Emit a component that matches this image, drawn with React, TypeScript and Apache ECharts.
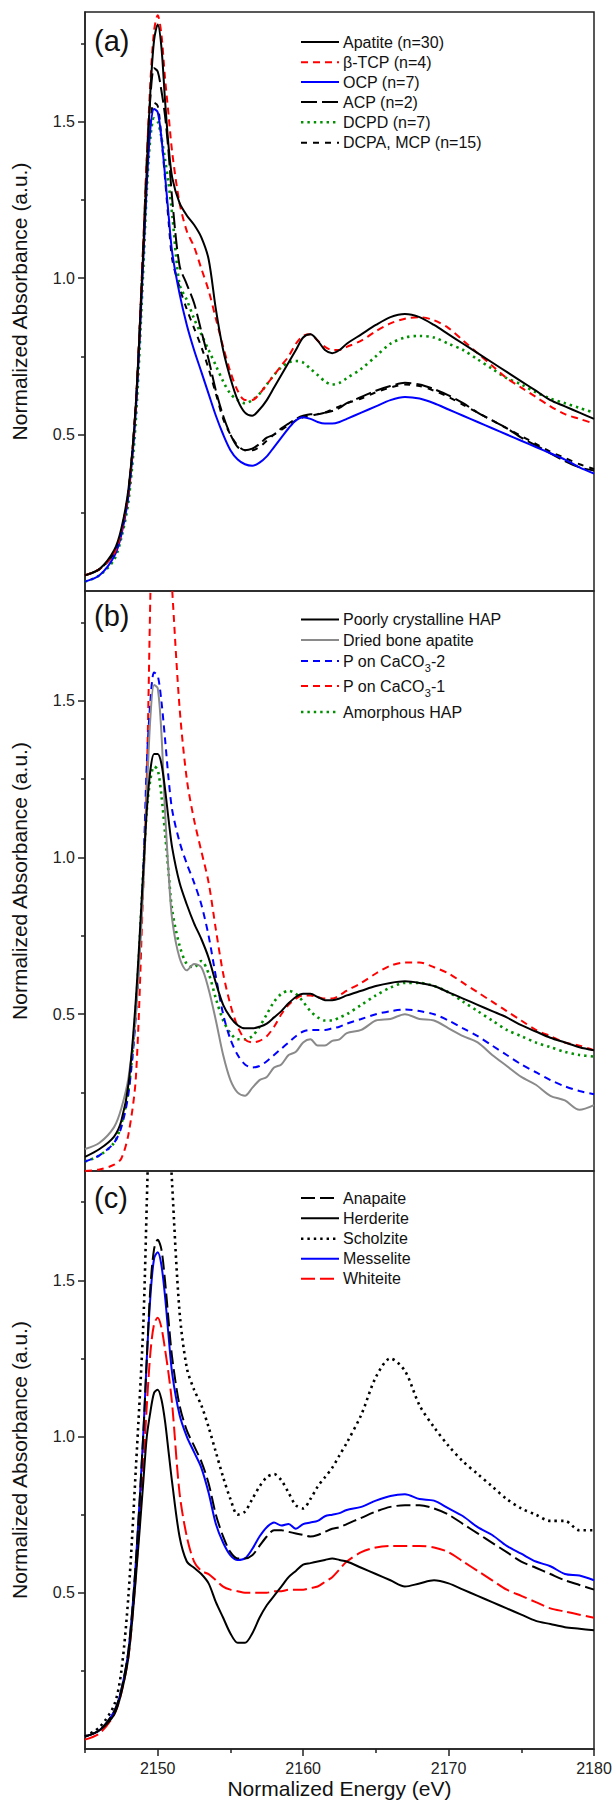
import React, { useEffect, useRef } from 'react';
import * as echarts from 'echarts';

// Energy grid (eV), shared by every curve
const energy = [
  2145, 2146, 2147, 2147.5, 2148, 2148.5, 2149,
  2149.25, 2149.5, 2149.75, 2150, 2150.25, 2150.5, 2150.75, 2151,
  2151.5, 2152, 2152.5, 2153, 2153.5, 2154, 2154.5, 2155, 2155.5, 2156, 2156.5, 2157, 2157.5, 2158, 2158.5, 2159, 2159.5, 2160, 2160.5, 2161, 2161.5, 2162, 2162.5, 2163,
  2164, 2165, 2166, 2167, 2168, 2169, 2170, 2171, 2172, 2173, 2174, 2175, 2176, 2177, 2178, 2179, 2180,
];

// Panel (a)
const apatite = [
  0.05, 0.07, 0.13, 0.2, 0.33, 0.6, 1.08,
  1.35, 1.6, 1.76, 1.81, 1.74, 1.57, 1.42, 1.32,
  1.24, 1.2, 1.17, 1.13, 1.06, 0.9, 0.77, 0.68, 0.61, 0.57, 0.56, 0.58, 0.61, 0.65, 0.69, 0.73, 0.77, 0.81, 0.82, 0.8, 0.77, 0.76, 0.77, 0.79,
  0.82, 0.85, 0.875, 0.885, 0.875, 0.85, 0.82, 0.79, 0.76, 0.73, 0.7, 0.67, 0.64, 0.61, 0.59, 0.57, 0.55,
];
const betaTCP = [
  0.05, 0.07, 0.12, 0.19, 0.32, 0.6, 1.1,
  1.38, 1.63, 1.79, 1.84, 1.78, 1.64, 1.52, 1.4,
  1.24, 1.15, 1.1, 1.03, 0.96, 0.87, 0.78, 0.7, 0.64, 0.61, 0.61, 0.63, 0.66, 0.69, 0.72, 0.75, 0.79, 0.815, 0.82, 0.8, 0.78, 0.77, 0.77, 0.78,
  0.8, 0.83, 0.855, 0.87, 0.875, 0.865, 0.84, 0.8, 0.76, 0.72, 0.68, 0.65, 0.62, 0.59, 0.565, 0.55, 0.535,
];
const ocp = [
  0.03, 0.05, 0.11, 0.18, 0.31, 0.58, 1.05,
  1.3, 1.48, 1.54, 1.53, 1.45, 1.33, 1.2, 1.08,
  0.95, 0.85, 0.77, 0.7, 0.63, 0.56, 0.5, 0.45, 0.42, 0.405, 0.4, 0.41, 0.43, 0.46, 0.49, 0.52, 0.545, 0.555, 0.55, 0.54, 0.535, 0.535, 0.54, 0.55,
  0.57, 0.59, 0.61, 0.62, 0.615, 0.6, 0.58, 0.56, 0.54, 0.52, 0.5, 0.48, 0.46, 0.44, 0.42, 0.395, 0.375,
];
const acp = [
  0.05, 0.07, 0.12, 0.19, 0.32, 0.6, 1.1,
  1.38, 1.58, 1.67, 1.66, 1.6, 1.52, 1.4, 1.25,
  1.04, 0.98, 0.92, 0.83, 0.74, 0.64, 0.56, 0.5, 0.46, 0.45, 0.455, 0.47, 0.49, 0.5, 0.52, 0.535, 0.55, 0.56, 0.565, 0.565, 0.57, 0.575, 0.585, 0.6,
  0.62, 0.64, 0.655, 0.665, 0.66, 0.645, 0.625, 0.6, 0.57, 0.545, 0.52, 0.49, 0.465, 0.44, 0.415, 0.395, 0.385,
];
const dcpd = [
  0.03, 0.05, 0.1, 0.17, 0.29, 0.55, 1.02,
  1.28, 1.45, 1.51, 1.5, 1.45, 1.38, 1.3, 1.2,
  0.98, 0.93, 0.87, 0.82, 0.77, 0.72, 0.67, 0.63, 0.61, 0.6, 0.61, 0.63, 0.66, 0.69, 0.715, 0.73, 0.735, 0.73, 0.71, 0.69, 0.67, 0.66, 0.665, 0.68,
  0.71, 0.75, 0.79, 0.81, 0.815, 0.81, 0.79, 0.77, 0.74, 0.71, 0.68, 0.66, 0.635, 0.615, 0.6, 0.585, 0.57,
];
const dcpaMcp = [
  0.05, 0.07, 0.12, 0.19, 0.32, 0.6, 1.08,
  1.32, 1.5, 1.56, 1.55, 1.45, 1.32, 1.18, 1.06,
  0.97, 0.9, 0.84, 0.78, 0.71, 0.63, 0.55, 0.5, 0.465, 0.45, 0.45, 0.46, 0.48, 0.5, 0.515, 0.53, 0.545, 0.555, 0.56, 0.565, 0.57, 0.58, 0.59, 0.6,
  0.615, 0.635, 0.65, 0.66, 0.655, 0.64, 0.62, 0.595, 0.57, 0.545, 0.52, 0.495, 0.47, 0.445, 0.425, 0.405, 0.39,
];

// Panel (b)
const poorlyHAP = [
  0.045, 0.07, 0.11, 0.16, 0.28, 0.55, 0.95,
  1.15, 1.28, 1.33, 1.33, 1.3, 1.22, 1.12, 1.03,
  0.92, 0.85, 0.79, 0.74, 0.68, 0.6, 0.53, 0.49, 0.465, 0.455, 0.455, 0.46, 0.47, 0.49, 0.51, 0.535, 0.555, 0.565, 0.565, 0.555, 0.545, 0.545, 0.55, 0.56,
  0.575, 0.59, 0.6, 0.605, 0.6, 0.59, 0.57, 0.55, 0.53, 0.51, 0.49, 0.465, 0.445, 0.425, 0.41, 0.395, 0.385,
];
const driedBone = [
  0.07, 0.09, 0.14, 0.2, 0.3, 0.5, 0.9,
  1.2, 1.45, 1.55, 1.54, 1.4, 1.15, 0.95, 0.8,
  0.68, 0.64, 0.66, 0.65, 0.58, 0.48, 0.37, 0.29, 0.25, 0.24, 0.265, 0.29, 0.3, 0.33, 0.34, 0.37, 0.38, 0.41, 0.42, 0.4, 0.4, 0.415, 0.42, 0.44,
  0.45, 0.48, 0.485, 0.5, 0.485, 0.48, 0.455, 0.43, 0.41, 0.37, 0.335, 0.3, 0.275, 0.24, 0.225, 0.195, 0.21,
];
const caco3Two = [
  0.03, 0.05, 0.09, 0.14, 0.25, 0.5, 0.95,
  1.3, 1.5, 1.59, 1.58, 1.5, 1.38, 1.25, 1.15,
  1.05, 0.98, 0.92, 0.85, 0.75, 0.62, 0.5, 0.42, 0.37, 0.34, 0.33, 0.335, 0.35, 0.37, 0.39, 0.41, 0.43, 0.445, 0.45, 0.45, 0.45, 0.455, 0.46, 0.47,
  0.485, 0.5, 0.51, 0.515, 0.51, 0.5, 0.48, 0.455, 0.43, 0.4, 0.37, 0.34, 0.315, 0.29, 0.27, 0.255, 0.245,
];
const caco3One = [
  0, 0.005, 0.02, 0.04, 0.12, 0.3, 0.9,
  1.25, 1.85, 2.4, 2.6, 2.5, 2.3, 2.05, 1.85,
  1.48, 1.25, 1.12, 1.02, 0.92, 0.77, 0.63, 0.53, 0.46, 0.42, 0.41, 0.415, 0.43, 0.46, 0.5, 0.53, 0.55, 0.56, 0.56, 0.555, 0.55, 0.55, 0.56, 0.575,
  0.6, 0.63, 0.655, 0.665, 0.665, 0.65, 0.63, 0.6, 0.57, 0.54, 0.51, 0.48, 0.45, 0.43, 0.41, 0.4, 0.385,
];
const amorphousHAP = [
  0.03, 0.05, 0.09, 0.15, 0.26, 0.52, 0.95,
  1.15, 1.25, 1.29, 1.28, 1.2, 1.08, 0.95, 0.83,
  0.72, 0.66, 0.65, 0.67, 0.63, 0.55, 0.48, 0.44, 0.42, 0.42, 0.43, 0.46, 0.5, 0.54, 0.565, 0.575, 0.565, 0.54, 0.51, 0.49, 0.48, 0.48, 0.49, 0.5,
  0.53, 0.56, 0.585, 0.6, 0.6, 0.59, 0.57, 0.54, 0.51, 0.48, 0.45, 0.43, 0.41, 0.395, 0.38, 0.37, 0.365,
];

// Panel (c)
const anapaite = [
  0.04, 0.06, 0.12, 0.19, 0.32, 0.6, 1.0,
  1.25, 1.48, 1.6, 1.63, 1.6, 1.5, 1.37, 1.25,
  1.1, 1.02, 0.97, 0.92, 0.85, 0.75, 0.68, 0.63, 0.61, 0.61, 0.62, 0.65, 0.68, 0.7, 0.7, 0.695, 0.69, 0.685, 0.68, 0.685, 0.695, 0.705, 0.71, 0.72,
  0.74, 0.76, 0.775, 0.78, 0.78, 0.77, 0.75, 0.72, 0.69, 0.66, 0.63, 0.6, 0.58, 0.56, 0.54, 0.525, 0.51,
];
const herderite = [
  0.04, 0.06, 0.11, 0.18, 0.3, 0.55, 0.85,
  1.0, 1.08, 1.14, 1.15, 1.12, 1.05, 0.95, 0.85,
  0.68, 0.6, 0.58, 0.56, 0.53, 0.47, 0.42, 0.37, 0.34, 0.34, 0.37, 0.42, 0.46, 0.49, 0.52, 0.55, 0.57, 0.59, 0.595, 0.6, 0.605, 0.61, 0.605, 0.6,
  0.58, 0.56, 0.54, 0.52, 0.53, 0.54, 0.53, 0.51, 0.49, 0.47, 0.45, 0.43, 0.41, 0.4, 0.39, 0.385, 0.38,
];
const scholzite = [
  0.04, 0.07, 0.14, 0.25, 0.5, 0.9, 1.35,
  1.75, 2.2, 2.5, 2.65, 2.55, 2.35, 2.05, 1.8,
  1.4, 1.22, 1.15, 1.1, 1.03, 0.95, 0.87, 0.8, 0.75, 0.76, 0.8, 0.84, 0.87, 0.88, 0.86, 0.82, 0.78, 0.77, 0.8, 0.84, 0.87, 0.9, 0.94, 0.98,
  1.07, 1.19, 1.25, 1.21, 1.1, 1.03, 0.97, 0.92, 0.88, 0.84, 0.8, 0.77, 0.75, 0.73, 0.73, 0.7, 0.7,
];
const messelite = [
  0.04, 0.06, 0.12, 0.19, 0.32, 0.6, 1.0,
  1.25, 1.45, 1.57, 1.59, 1.55, 1.45, 1.32, 1.2,
  1.07, 1.0, 0.95, 0.9, 0.82, 0.72, 0.66, 0.62, 0.605, 0.61, 0.64, 0.68, 0.71, 0.725, 0.715, 0.72, 0.705, 0.72, 0.725, 0.73, 0.745, 0.75, 0.755, 0.765,
  0.775, 0.795, 0.81, 0.815, 0.8, 0.795, 0.77, 0.745, 0.71, 0.685, 0.65, 0.625, 0.6, 0.585, 0.56, 0.555, 0.54,
];
const whiteite = [
  0.03, 0.05, 0.11, 0.18, 0.3, 0.56, 0.9,
  1.1, 1.27, 1.36, 1.38, 1.35, 1.28, 1.2, 1.1,
  0.82, 0.68, 0.6, 0.57, 0.56, 0.54, 0.52, 0.51, 0.505, 0.5, 0.5, 0.5, 0.5, 0.505, 0.505, 0.51, 0.51, 0.51, 0.515, 0.52, 0.535, 0.55, 0.575, 0.6,
  0.63, 0.645, 0.65, 0.65, 0.65, 0.645, 0.63, 0.6, 0.57, 0.54, 0.51, 0.49, 0.47, 0.45, 0.44, 0.43, 0.42,
];

// Axis ticks / labels
const xMajorTicks = [2150, 2160, 2170, 2180];
const xMinorTicks = [2145, 2155, 2165, 2175];
const yMajorTicks = [0.5, 1.0, 1.5];
const yMinorTicks = [0.25, 0.75, 1.25, 1.75];

const FONT = '"Liberation Sans", Arial, Helvetica, sans-serif';
const RED = '#ff0000';
const BLUE = '#0000ff';
const GREEN = '#009000';
const GRAY = '#8a8a8a';
const BLACK = '#000000';
const AXIS = '#222222';

type Item = {
  name: string;
  sub?: string;
  after?: string;
  data: number[];
  color: string;
  width: number;
  dash: number[] | null;
};

const panels: { top: number; height: number; label: string; labelY: number; legendY: number[]; items: Item[] }[] = [
  {
    top: 12, height: 579, label: '(a)', labelY: 41,
    legendY: [42, 62.3, 82, 102, 122.3, 142.7],
    items: [
      { name: 'Apatite (n=30)', data: apatite, color: BLACK, width: 2, dash: null },
      { name: 'β-TCP (n=4)', data: betaTCP, color: RED, width: 2, dash: [7, 5] },
      { name: 'OCP (n=7)', data: ocp, color: BLUE, width: 2, dash: null },
      { name: 'ACP (n=2)', data: acp, color: BLACK, width: 2, dash: [16, 5] },
      { name: 'DCPD (n=7)', data: dcpd, color: GREEN, width: 2.6, dash: [2.4, 4] },
      { name: 'DCPA, MCP (n=15)', data: dcpaMcp, color: BLACK, width: 2, dash: [6, 6] },
    ],
  },
  {
    top: 591, height: 580, label: '(b)', labelY: 616,
    legendY: [619.5, 640, 661, 686, 712],
    items: [
      { name: 'Poorly crystalline HAP', data: poorlyHAP, color: BLACK, width: 2, dash: null },
      { name: 'Dried bone apatite', data: driedBone, color: GRAY, width: 2, dash: null },
      { name: 'P on CaCO', sub: '3', after: '-2', data: caco3Two, color: BLUE, width: 2, dash: [7, 5] },
      { name: 'P on CaCO', sub: '3', after: '-1', data: caco3One, color: RED, width: 2, dash: [7, 5] },
      { name: 'Amorphous HAP', data: amorphousHAP, color: GREEN, width: 2.6, dash: [2.4, 4] },
    ],
  },
  {
    top: 1171, height: 578, label: '(c)', labelY: 1198,
    legendY: [1198, 1218.3, 1238.7, 1258.7, 1278.7],
    items: [
      { name: 'Anapaite', data: anapaite, color: BLACK, width: 2, dash: [14, 5] },
      { name: 'Herderite', data: herderite, color: BLACK, width: 2, dash: null },
      { name: 'Scholzite', data: scholzite, color: BLACK, width: 2.6, dash: [2.4, 4] },
      { name: 'Messelite', data: messelite, color: BLUE, width: 2, dash: null },
      { name: 'Whiteite', data: whiteite, color: RED, width: 2, dash: [14, 5] },
    ],
  },
];

const GRID_LEFT = 85;
const GRID_WIDTH = 509;
const Y_MAX = 1.85;

export default function App() {
  const ref = useRef<HTMLDivElement>(null);

  useEffect(() => {
    document.body.style.margin = '0';
    if (!ref.current) return;
    const chart = echarts.init(ref.current, null, { renderer: 'svg' });

    const ctx = document.createElement('canvas').getContext('2d');
    const measure = (t: string, size: number) => {
      if (!ctx) return t.length * size * 0.55;
      ctx.font = `${size}px "Liberation Sans"`;
      return ctx.measureText(t).width;
    };

    const grid: any[] = [];
    const xAxis: any[] = [];
    const yAxis: any[] = [];
    const series: any[] = [];
    const graphic: any[] = [];

    panels.forEach((p, i) => {
      grid.push({
        left: GRID_LEFT, top: p.top, width: GRID_WIDTH, height: p.height,
        show: true, borderColor: AXIS, borderWidth: 1.5, backgroundColor: 'transparent',
      });
      const isBottom = i === panels.length - 1;
      xAxis.push({
        type: 'value', gridIndex: i, min: 2145, max: 2180, position: 'bottom',
        axisLine: { show: isBottom, lineStyle: { color: AXIS, width: 1.5 } },
        axisTick: { show: isBottom, length: 7, customValues: xMajorTicks, lineStyle: { color: AXIS, width: 1.5 } },
        axisLabel: {
          show: isBottom, customValues: xMajorTicks, fontSize: 16, color: '#222', fontFamily: FONT, margin: 11,
          formatter: (v: number) => String(Math.round(v)),
        },
        splitLine: { show: false },
      });
      const yMajorIdx = yAxis.length;
      yAxis.push({
        type: 'value', gridIndex: i, min: 0, max: Y_MAX, position: 'left', offset: 0,
        axisLine: { show: true, lineStyle: { color: AXIS, width: 1.5 } },
        axisTick: { show: true, length: 7, customValues: yMajorTicks, lineStyle: { color: AXIS, width: 1.5 } },
        axisLabel: {
          show: true, customValues: yMajorTicks, fontSize: 16, color: '#222', fontFamily: FONT, margin: 10,
          formatter: (v: number) => v.toFixed(1),
        },
        splitLine: { show: false },
      });
      yAxis.push({
        type: 'value', gridIndex: i, min: 0, max: Y_MAX, position: 'left', offset: 0,
        axisLine: { show: false },
        axisTick: { show: true, length: 4, customValues: yMinorTicks, lineStyle: { color: AXIS, width: 1.5 } },
        axisLabel: { show: false },
        splitLine: { show: false },
      });

      p.items.forEach((it, k) => {
        series.push({
          type: 'line', name: it.name + (it.sub || '') + (it.after || ''),
          xAxisIndex: i, yAxisIndex: yMajorIdx,
          data: energy.map((e, j) => [e, it.data[j]]),
          showSymbol: false, symbol: 'none', smooth: 0.3, clip: true, silent: true,
          lineStyle: { color: it.color, width: it.width, type: it.dash ? it.dash : 'solid', cap: 'butt' },
          z: 2 + (p.items.length - k),
        });
        const y = p.legendY[k];
        graphic.push({
          type: 'line', silent: true,
          shape: { x1: 301, y1: y, x2: 339, y2: y },
          style: { stroke: it.color, lineWidth: it.width, lineDash: it.dash || undefined },
        });
        graphic.push({
          type: 'text', silent: true, x: 343, y,
          style: { text: it.name, fontSize: 16, fontFamily: FONT, fill: '#111', verticalAlign: 'middle', align: 'left' },
        });
        if (it.sub) {
          const w1 = measure(it.name, 16);
          graphic.push({
            type: 'text', silent: true, x: 343 + w1, y: y + 7,
            style: { text: it.sub, fontSize: 11, fontFamily: FONT, fill: '#111', verticalAlign: 'middle', align: 'left' },
          });
          const w2 = measure(it.sub, 11);
          graphic.push({
            type: 'text', silent: true, x: 343 + w1 + w2, y,
            style: { text: it.after || '', fontSize: 16, fontFamily: FONT, fill: '#111', verticalAlign: 'middle', align: 'left' },
          });
        }
      });

      graphic.push({
        type: 'text', silent: true, x: 94, y: p.labelY,
        style: { text: p.label, fontSize: 29, fontFamily: FONT, fill: '#111', verticalAlign: 'middle', align: 'left' },
      });
      graphic.push({
        type: 'text', silent: true, x: 19, y: p.top + p.height / 2,
        rotation: Math.PI / 2,
        style: { text: 'Normalized Absorbance (a.u.)', fontSize: 21, fontFamily: FONT, fill: '#111', verticalAlign: 'middle', align: 'center' },
      });
    });

    // minor ticks on the bottom x axis
    xAxis.push({
      type: 'value', gridIndex: panels.length - 1, min: 2145, max: 2180, position: 'bottom', offset: 0,
      axisLine: { show: false },
      axisTick: { show: true, length: 4, customValues: xMinorTicks, lineStyle: { color: AXIS, width: 1.5 } },
      axisLabel: { show: false },
      splitLine: { show: false },
    });

    graphic.push({
      type: 'text', silent: true, x: GRID_LEFT + GRID_WIDTH / 2, y: 1788,
      style: { text: 'Normalized Energy (eV)', fontSize: 21, fontFamily: FONT, fill: '#111', verticalAlign: 'middle', align: 'center' },
    });

    chart.setOption({
      animation: false,
      backgroundColor: '#ffffff',
      textStyle: { fontFamily: FONT },
      grid, xAxis, yAxis, series, graphic,
    });

    return () => chart.dispose();
  }, []);

  return <div ref={ref} style={{ width: 616, height: 1812 }} />;
}
